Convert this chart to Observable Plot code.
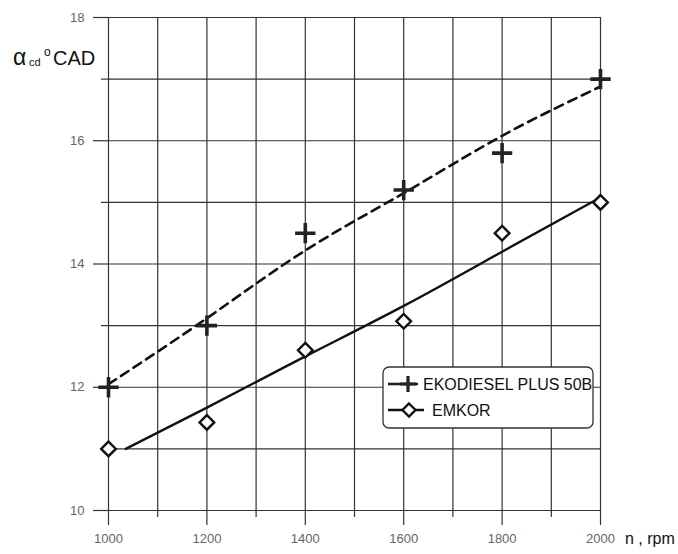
<!DOCTYPE html>
<html>
<head>
<meta charset="utf-8">
<script src="https://cdn.jsdelivr.net/npm/d3@7"></script>
<script src="https://cdn.jsdelivr.net/npm/@observablehq/plot@0.6"></script>
<style>
  html, body { margin: 0; padding: 0; background: #fff; }
  #chart { position: relative; width: 678px; height: 554px; }
</style>
</head>
<body>
<div id="chart"></div>
<script>
// Measured points
const rpm = [1000, 1200, 1400, 1600, 1800, 2000];
const ekodiesel = [12.0, 13.0, 14.5, 15.2, 15.8, 17.0];
const emkor = [11.0, 11.43, 12.6, 13.07, 14.5, 15.0];

// Trend curves
const ekoTrendRpm = [1000, 1200, 1400, 1600, 1800, 2000];
const ekoTrend = [12.05, 13.12, 14.22, 15.15, 16.08, 16.88];
const emkorTrendRpm = [1035, 1200, 1400, 1600, 1800, 2000];
const emkorTrend = [11.0, 11.67, 12.5, 13.32, 14.2, 15.08];

// Ticks and grid
const xMajor = [1000, 1200, 1400, 1600, 1800, 2000];
const xMinor = [1100, 1300, 1500, 1700, 1900];
const yMajor = [10, 12, 14, 16, 18];
const yMinor = [11, 13, 15, 17];

const seriesNames = ["EKODIESEL PLUS 50B", "EMKOR"];

const ekoPts = rpm.map((x, i) => ({x, y: ekodiesel[i]}));
const emkorPts = rpm.map((x, i) => ({x, y: emkor[i]}));
const ekoLine = ekoTrendRpm.map((x, i) => ({x, y: ekoTrend[i]}));
const emkorLine = emkorTrendRpm.map((x, i) => ({x, y: emkorTrend[i]}));

const gridColor = "#333";
const labelColor = "#666";

const chart = Plot.plot({
  width: 678,
  height: 554,
  marginLeft: 108,
  marginRight: 78,
  marginTop: 17,
  marginBottom: 44,
  x: {domain: [1000, 2000]},
  y: {domain: [10, 18]},
  style: {fontFamily: "'Liberation Sans', Arial, sans-serif", fontSize: "13px", background: "#fff", overflow: "visible"},
  marks: [
    Plot.gridX([...xMajor, ...xMinor], {stroke: gridColor, strokeOpacity: 1, strokeWidth: 1.2}),
    Plot.gridY([...yMajor, ...yMinor], {stroke: gridColor, strokeOpacity: 1, strokeWidth: 1.2}),
    Plot.axisX(xMajor, {tickSize: 15, tickPadding: 8, stroke: gridColor, strokeWidth: 1.2, fill: labelColor, tickFormat: "d", label: null}),
    Plot.axisX(xMinor, {tickSize: 7, stroke: gridColor, strokeWidth: 1.2, tickFormat: () => "", label: null}),
    Plot.axisY(yMajor, {tickSize: 15, tickPadding: 9, stroke: gridColor, strokeWidth: 1.2, fill: labelColor, tickFormat: "d", label: null}),
    Plot.axisY(yMinor, {tickSize: 7, stroke: gridColor, strokeWidth: 1.2, tickFormat: () => "", label: null}),
    Plot.line(ekoLine, {x: "x", y: "y", curve: "natural", stroke: "#111", strokeWidth: 2.6, strokeDasharray: "9,6"}),
    Plot.line(emkorLine, {x: "x", y: "y", curve: "natural", stroke: "#111", strokeWidth: 2.4}),
    Plot.dot(ekoPts, {x: "x", y: "y", symbol: "plus", r: 6.6, stroke: "#222", strokeWidth: 3.6}),
    Plot.dot(emkorPts, {x: "x", y: "y", symbol: "diamond2", r: 6.6, stroke: "#111", fill: "#fff", strokeWidth: 2.4})
  ]
});

document.getElementById("chart").appendChild(chart);

const svg = d3.select(chart);
const font = "'Liberation Sans', Arial, sans-serif";

// Y axis title: α_cd °CAD
const yt = svg.append("g").attr("font-family", font).attr("fill", "#111").attr("text-anchor", "start");
yt.append("text").attr("x", 13).attr("y", 65).attr("font-size", 23).text("α");
yt.append("text").attr("x", 29).attr("y", 66).attr("font-size", 11).text("cd");
yt.append("text").attr("x", 44).attr("y", 56).attr("font-size", 12).text("o");
yt.append("text").attr("x", 53).attr("y", 65).attr("font-size", 20).text("CAD");

// X axis title
svg.append("text").attr("x", 625).attr("y", 544).attr("font-family", font).attr("text-anchor", "start")
  .attr("font-size", 16).attr("fill", "#111").text("n , rpm");

// Legend
const lg = svg.append("g").attr("font-family", font).attr("text-anchor", "start");
lg.append("rect").attr("x", 383).attr("y", 367).attr("width", 210).attr("height", 61)
  .attr("rx", 6).attr("fill", "#fff").attr("stroke", "#333").attr("stroke-width", 1.3);
// entry 1
lg.append("line").attr("x1", 388).attr("x2", 418).attr("y1", 384).attr("y2", 384)
  .attr("stroke", "#222").attr("stroke-width", 2.6);
lg.append("path").attr("d", "M400,384H416M408,376V392").attr("stroke", "#222").attr("stroke-width", 3.2);
lg.append("text").attr("x", 423).attr("y", 390).attr("font-size", 16).attr("fill", "#111").text(seriesNames[0]);
// entry 2
lg.append("line").attr("x1", 388).attr("x2", 424).attr("y1", 410).attr("y2", 410)
  .attr("stroke", "#111").attr("stroke-width", 2.4);
lg.append("path").attr("d", "M409,403.5L415.5,410L409,416.5L402.5,410Z")
  .attr("stroke", "#111").attr("stroke-width", 2.3).attr("fill", "#fff");
lg.append("text").attr("x", 432).attr("y", 416).attr("font-size", 16).attr("fill", "#111").text(seriesNames[1]);
</script>
</body>
</html>
